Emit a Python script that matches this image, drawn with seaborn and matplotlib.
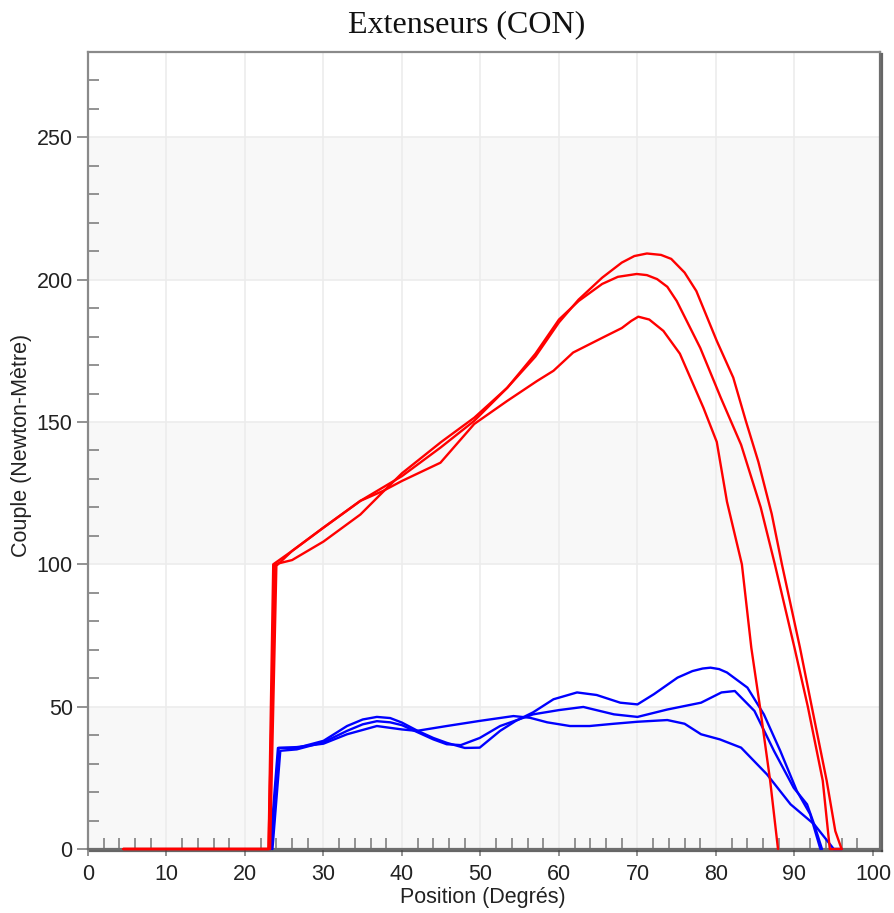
import numpy as np
import pandas as pd
import matplotlib
matplotlib.use("Agg")
import matplotlib.pyplot as plt
import matplotlib.patheffects as pe
from matplotlib.ticker import MultipleLocator
import seaborn as sns

# courbes extenseurs (position en degres, couple en N.m)
red1_x = [4.5, 23.0, 23.8, 26.0, 30.0, 34.7, 37.6, 40.0, 45.0, 49.2, 53.4, 57.0, 60.0, 62.5, 65.5, 68.0,
          69.6, 71.2, 73.0, 74.3, 76.0, 77.5, 80.1, 82.2, 83.8, 85.4, 87.1, 88.4, 90.7, 92.2, 94.1, 95.2, 96.0]
red1_y = [0, 0, 100, 101.5, 108, 117.5, 125.5, 132, 143, 151.5, 162, 173, 185, 193, 200.7, 206,
          208.3, 209.2, 208.7, 207.3, 202.5, 196, 178.5, 165.6, 150.4, 136, 117.7, 100, 70.7, 50, 24, 6.3, 0]

red2_x = [4.5, 23.2, 24.0, 26.0, 30.0, 34.7, 40.0, 44.9, 49.2, 53.4, 57.0, 60.0, 62.5, 65.5, 67.5, 69.9,
          71.2, 72.5, 73.8, 75.0, 78.0, 80.6, 83.2, 85.7, 87.5, 90.0, 91.7, 93.6, 94.5, 96.0]
red2_y = [0, 0, 99.5, 104.7, 112.9, 122.3, 131, 141, 150.4, 162, 174, 186, 192.5, 198.5, 201, 202,
          201.6, 200.2, 197.5, 192.5, 176, 158.6, 142, 120, 100, 70.7, 50, 24, 0, 0]

red3_x = [4.5, 23.0, 23.6, 26.0, 30.0, 34.7, 37.6, 40.0, 44.9, 49.2, 53.4, 57.2, 59.3, 61.8, 65.6, 68.0,
          69.2, 70.1, 71.5, 73.3, 75.4, 78.4, 80.1, 81.4, 83.3, 84.5, 85.6, 86.9, 87.9]
red3_y = [0, 0, 100, 104.7, 112.9, 122.3, 125.8, 129.3, 135.7, 149.3, 157.4, 164.4, 168, 174.4, 179.7, 183,
          185.5, 187, 186, 182, 174, 155, 143, 122, 100, 70.7, 50, 24, 0]

blue1_x = [23.3, 24.3, 26.6, 30.0, 33.0, 35.0, 36.8, 38.5, 40.0, 42.0, 44.0, 45.7, 48.0, 49.9, 52.5, 54.5,
           56.7, 59.3, 62.3, 64.8, 67.8, 70.0, 72.1, 75.1, 77.0, 78.3, 79.3, 80.4, 81.4, 84.0, 86.1, 88.2,
           90.3, 92.0, 93.3]
blue1_y = [0, 35.5, 35.5, 38.0, 43.2, 45.5, 46.4, 46.0, 44.4, 41.5, 39.0, 37.3, 35.5, 35.6, 41.5, 45.0,
           48.0, 52.6, 55.0, 54.1, 51.4, 50.8, 54.4, 60.2, 62.5, 63.4, 63.7, 63.2, 62.0, 56.7, 47.3, 34.4,
           20.4, 12.2, 0]

blue2_x = [23.5, 24.5, 26.6, 30.0, 33.0, 35.0, 36.8, 38.5, 40.0, 42.0, 44.0, 45.7, 47.5, 49.9, 52.5, 56.7,
           60.0, 63.1, 67.0, 70.0, 73.8, 78.1, 80.7, 82.4, 84.9, 87.4, 89.9, 91.6, 92.5, 93.5]
blue2_y = [0, 34.5, 35.0, 37.5, 41.5, 43.8, 44.9, 44.5, 43.5, 41.0, 38.5, 36.8, 36.5, 39.0, 43.2, 47.3,
           48.8, 49.9, 47.3, 46.4, 49.0, 51.4, 55.0, 55.5, 48.5, 34.4, 21.5, 15.7, 8.7, 0]

blue3_x = [23.2, 24.2, 26.6, 30.0, 33.0, 36.8, 40.0, 41.9, 45.7, 49.9, 54.2, 56.3, 58.5, 61.4, 63.9, 67.0,
           70.0, 73.8, 76.0, 78.1, 80.5, 83.2, 86.5, 89.5, 92.5, 94.2, 95.0, 96.0]
blue3_y = [0, 35.5, 35.8, 37.0, 40.3, 43.2, 42.0, 41.5, 43.2, 45.0, 46.7, 46.1, 44.5, 43.2, 43.2, 44.0,
           44.7, 45.3, 44.0, 40.3, 38.5, 35.6, 26.2, 15.7, 8.7, 2.8, 0, 0]

sns.set_style("white")
plt.rcParams['font.family'] = ['Liberation Sans', 'DejaVu Sans']

fig = plt.figure(figsize=(8.94, 9.13), dpi=100)
ax = fig.add_axes([0.0984, 0.0701, 0.886, 0.873])

# bandes grises alternees
for lo in [0, 100, 200]:
    ax.axhspan(lo, lo + 50, color='#f8f8f8', zorder=0, lw=0)
for gx in range(10, 100, 10):
    ax.axvline(gx, color='#ececec', lw=1.2, zorder=0.5)
for gy in range(50, 300, 50):
    ax.axhline(gy, color='#ececec', lw=1.2, zorder=0.5)

for xs, ys in [(blue1_x, blue1_y), (blue2_x, blue2_y), (blue3_x, blue3_y)]:
    sns.lineplot(x=xs, y=ys, sort=False, estimator=None, color='#0000ff', lw=1.7, ax=ax,
                 clip_on=False, zorder=4)
for xs, ys in [(red1_x, red1_y), (red2_x, red2_y), (red3_x, red3_y)]:
    sns.lineplot(x=xs, y=ys, sort=False, estimator=None, color='#ff0000', lw=1.7, ax=ax,
                 clip_on=False, zorder=5)

ax.set_xlim(0, 100.9)
ax.set_ylim(0, 280)
ax.xaxis.set_major_locator(MultipleLocator(10))
ax.xaxis.set_minor_locator(MultipleLocator(2))
ax.yaxis.set_major_locator(MultipleLocator(50))
ax.yaxis.set_minor_locator(MultipleLocator(10))
ax.set_yticks([0, 50, 100, 150, 200, 250])

ax.tick_params(axis='both', which='major', direction='out', color='#808080', width=1.2,
               labelsize=15.5, labelcolor='#222222')
ax.tick_params(axis='x', which='major', length=5, pad=6)
ax.tick_params(axis='y', which='major', length=8, pad=3)
ax.tick_params(axis='both', which='minor', direction='in', length=8, color='#808080', width=1.2)
ax.tick_params(bottom=True, left=True, which='both')

for side in ['left', 'top']:
    ax.spines[side].set_color('#8a8a8a')
    ax.spines[side].set_linewidth(1.6)
for side in ['right', 'bottom']:
    ax.spines[side].set_color('#6e6e6e')
    ax.spines[side].set_linewidth(1.6)
    ax.spines[side].set_path_effects([pe.SimpleLineShadow(offset=(1.5, -1.5), shadow_color='#404040', alpha=0.8),
                                      pe.Normal()])

ax.set_xlabel('')
ax.set_ylabel('')
fig.text(467 / 894, 1 - 25 / 913, 'Extenseurs (CON)', ha='center', va='center',
         fontsize=23, family=['Liberation Serif', 'DejaVu Serif'], color='#111111')
fig.text(22 / 894, 1 - 445 / 913, 'Couple (Newton-Mètre)', rotation=90, ha='center', va='center',
         fontsize=15.5, color='#222222')
fig.text(483 / 894, 1 - 897 / 913, 'Position (Degrés)', ha='center', va='center',
         fontsize=15.5, color='#222222')

fig.savefig('out.png', dpi=100)
